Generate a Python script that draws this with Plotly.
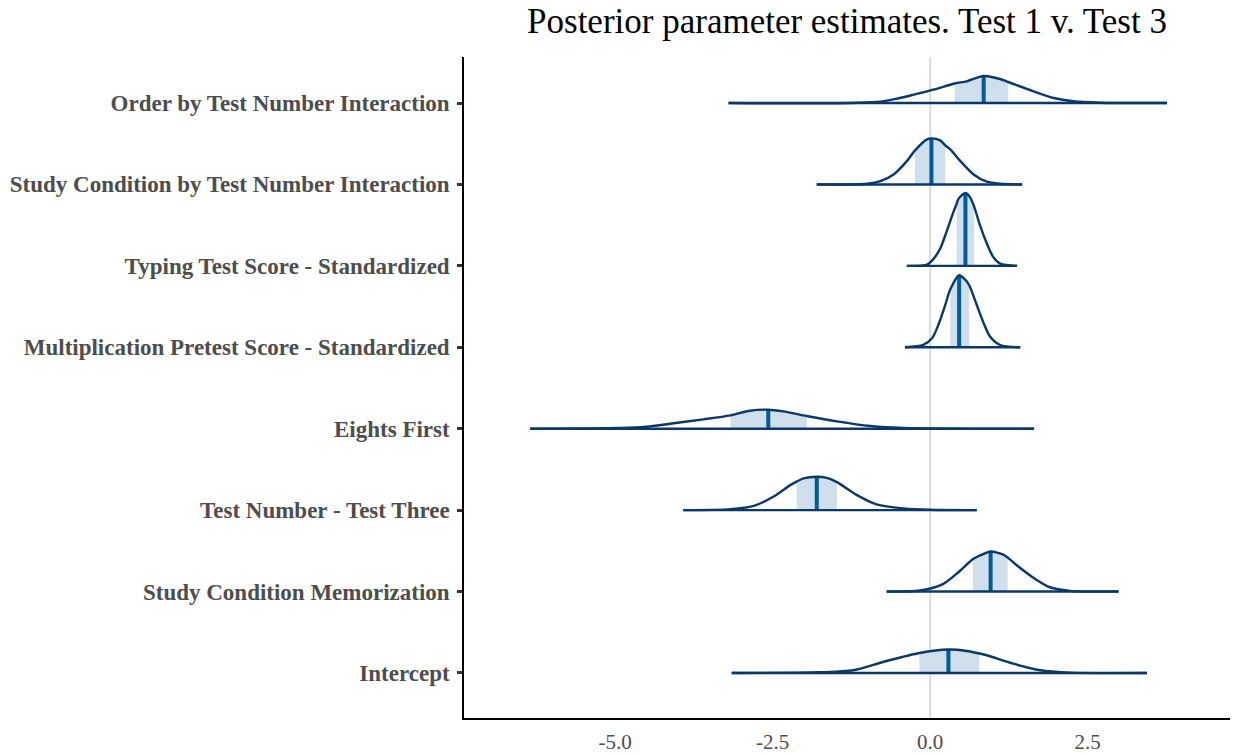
import plotly.graph_objects as go

# Parameters, listed bottom (1) to top (8)
params = [
    "Intercept",
    "Study Condition Memorization",
    "Test Number - Test Three",
    "Eights First",
    "Multiplication Pretest Score - Standardized",
    "Typing Test Score - Standardized",
    "Study Condition by Test Number Interaction",
    "Order by Test Number Interaction",
]

# Posterior density curves: grid points and (unnormalised) density heights
intercept_x = [-3.15, -1.75, -1.22, -0.69, -0.17, 0.29, 0.58, 0.78, 0.90, 1.32, 1.75, 2.22, 3.44]
intercept_d = [0, 0.7, 2.7, 12, 20, 23.4, 22, 19.5, 17.7, 9.3, 2.7, 0.3, 0]

memorization_x = [-0.69, -0.16, 0.21, 0.48, 0.68, 0.85, 0.96, 1.16, 1.23, 1.38, 1.64, 1.90, 2.22, 2.99]
memorization_d = [0, 1, 7.7, 21, 32.5, 37.7, 40, 37, 34, 26, 13.7, 4.3, 0.7, 0]

test_three_x = [-3.92, -3.17, -2.80, -2.49, -2.22, -2.12, -2.01, -1.80, -1.64, -1.48, -1.16, -0.85, -0.42, 0.0, 0.74]
test_three_d = [0, 1, 4.3, 13.3, 25, 28.5, 31.7, 33.3, 32.3, 28, 15, 5.7, 1.7, 0.3, 0]

eights_x = [-6.35, -4.92, -4.50, -4.13, -3.60, -3.17, -2.86, -2.57, -2.33, -1.96, -1.48, -0.95, -0.42, 1.65]
eights_d = [0, 0.7, 2, 5, 9.3, 13.3, 18, 19, 17.3, 12.7, 7.3, 2.7, 0.7, 0]

pretest_x = [-0.40, -0.11, 0.03, 0.13, 0.24, 0.32, 0.46, 0.56, 0.62, 0.74, 0.85, 0.95, 1.11, 1.43]
pretest_d = [0, 2.3, 9, 22.3, 42.3, 58, 72, 67.3, 62, 42.3, 24, 10.7, 2.3, 0]

typing_x = [-0.37, -0.05, 0.05, 0.16, 0.26, 0.37, 0.42, 0.45, 0.56, 0.63, 0.70, 0.79, 0.90, 1.00, 1.11, 1.38]
typing_d = [0, 1.3, 6.7, 17.3, 34, 54, 62, 67, 73, 69, 59, 40.7, 22.3, 9, 2.3, 0]

cond_inter_x = [-1.80, -1.00, -0.79, -0.58, -0.37, -0.24, -0.05, 0.02, 0.16, 0.24, 0.32, 0.48, 0.69, 0.90, 1.11, 1.46]
cond_inter_d = [0, 0.7, 3.3, 10, 23.3, 34, 45, 46, 44, 39, 35, 23.3, 10, 2.7, 0.7, 0]

order_inter_x = [-3.20, -0.85, -0.48, -0.26, 0.05, 0.39, 0.58, 0.85, 1.11, 1.24, 1.64, 1.96, 2.27, 2.70, 3.76]
order_inter_d = [0, 1, 5, 8.3, 13.3, 19.5, 21.7, 27, 24, 21, 11.7, 5, 1.7, 0.3, 0]

density_x = [intercept_x, memorization_x, test_three_x, eights_x,
             pretest_x, typing_x, cond_inter_x, order_inter_x]
density_d = [intercept_d, memorization_d, test_three_d, eights_d,
             pretest_d, typing_d, cond_inter_d, order_inter_d]

# Posterior medians and 50% interval bounds
medians = [0.29, 0.96, -1.80, -2.57, 0.46, 0.56, 0.02, 0.85]
ci_low = [-0.17, 0.68, -2.12, -3.17, 0.32, 0.42, -0.24, 0.39]
ci_high = [0.78, 1.23, -1.48, -1.96, 0.62, 0.70, 0.24, 1.24]

x_ticks = [-5.0, -2.5, 0.0, 2.5]

# Density units -> row units
SCALE = 1 / 81.4

OUTLINE = "#0b3769"
FILL = "#cfdfeb"
MEDIAN = "#005b96"

fig = go.Figure()

for i, name in enumerate(params):
    base = i + 1
    xs, ds = density_x[i], density_d[i]
    ys = [base + d * SCALE for d in ds]

    # shaded central interval
    sel = [k for k, x in enumerate(xs) if ci_low[i] <= x <= ci_high[i]]
    sx = [xs[k] for k in sel]
    sy = [ys[k] for k in sel]
    fig.add_trace(go.Scatter(
        x=[ci_low[i], ci_high[i]], y=[base, base], mode="lines",
        line=dict(width=0, color=FILL), hoverinfo="skip", showlegend=False))
    fig.add_trace(go.Scatter(
        x=sx, y=sy, mode="lines", fill="tonexty", fillcolor=FILL,
        line=dict(width=0, color=FILL, shape="spline", smoothing=0.8),
        hoverinfo="skip", showlegend=False))

    # median line
    md = ds[xs.index(medians[i])]
    fig.add_trace(go.Scatter(
        x=[medians[i], medians[i]], y=[base, base + md * SCALE], mode="lines",
        line=dict(width=4, color=MEDIAN), hoverinfo="skip", showlegend=False))

    # baseline segment
    fig.add_trace(go.Scatter(
        x=[xs[0], xs[-1]], y=[base, base], mode="lines",
        line=dict(width=2.4, color=OUTLINE), hoverinfo="skip", showlegend=False))

    # density outline
    fig.add_trace(go.Scatter(
        x=xs, y=ys, mode="lines", name=name,
        line=dict(width=2.4, color=OUTLINE, shape="spline", smoothing=0.8),
        showlegend=False))

fig.add_shape(type="line", x0=0, x1=0, y0=0, y1=1, xref="x", yref="paper",
              line=dict(color="#dcdcdc", width=2), layer="below")

fig.update_layout(
    width=1235, height=755,
    margin=dict(l=464, r=5, t=57, b=37),
    paper_bgcolor="white", plot_bgcolor="white",
    title=dict(text="Posterior parameter estimates. Test 1 v. Test 3",
               x=0.5, xref="paper", xanchor="center",
               y=0.972, yref="container", yanchor="middle",
               font=dict(family="Liberation Serif", size=35, color="black"),
               automargin=False),
    xaxis=dict(range=[-7.40, 4.76], tickvals=x_ticks,
               ticktext=[f"{v:.1f}" for v in x_ticks],
               showgrid=False, zeroline=False, automargin=False,
               showline=True, linecolor="black", linewidth=1.5,
               ticks="outside", ticklen=4, tickcolor="rgba(0,0,0,0)",
               tickfont=dict(family="Liberation Serif", size=21, color="#4d4d4d")),
    yaxis=dict(range=[0.447, 8.565], tickvals=list(range(1, 9)), ticktext=params,
               showgrid=False, zeroline=False, automargin=False,
               showline=True, linecolor="black", linewidth=1.5,
               ticks="outside", ticklen=5, tickwidth=3, tickcolor="#333333",
               ticklabelstandoff=3,
               tickfont=dict(family="Liberation Serif", size=23, color="#4d4d4d",
                             weight="bold")),
)

fig.write_html("out.html")
